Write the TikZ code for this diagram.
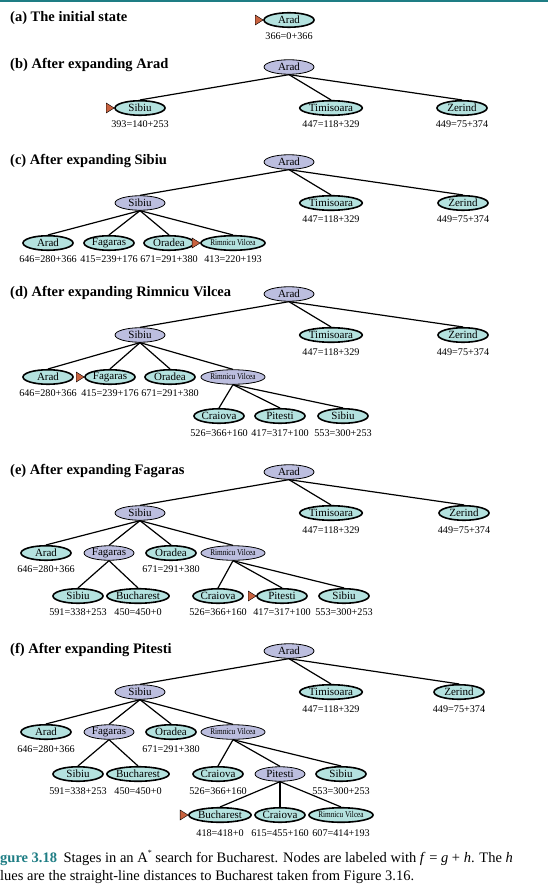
\documentclass[tikz,border=0pt]{standalone}
\usepackage{fontspec}
\setmainfont{Liberation Serif}
\usetikzlibrary{shapes.geometric}
\definecolor{frontc}{HTML}{B4E2DF}
\definecolor{expc}{HTML}{BCBEDF}
\definecolor{markc}{HTML}{C9623F}
\definecolor{tealc}{HTML}{1E7D84}
\newcommand\mk[1]{\draw[fill=markc, line width=0.4pt] (#1.west) -- ++(-8,-5) -- ++(0,10) -- cycle;}
\newcommand\rv{\scalebox{0.66}[0.8]{Rimnicu Vilcea}}
\begin{document}
\begin{tikzpicture}[x=1pt,y=-1pt,
 nd/.style={ellipse, draw, minimum width=50pt, minimum height=14.5pt, inner sep=0pt, font=\fontsize{11}{12}\selectfont},
 fr/.style={nd, fill=frontc, line width=1.6pt},
 ex/.style={nd, fill=expc, line width=0.8pt},
 lbl/.style={inner sep=0pt, font=\fontsize{10.2}{11}\selectfont},
 ttl/.style={anchor=base west, inner sep=0pt, font=\bfseries\fontsize{14.5}{16}\selectfont},
 captxt/.style={anchor=base west, inner sep=0pt, font=\fontsize{14.5}{16}\selectfont},
 edge/.style={line width=1.2pt}]
\useasboundingbox (0,0) rectangle (548,890);
\clip (0,0) rectangle (548,890);
\fill[tealc] (0,0) rectangle (548,2);

% (a)
\node[ttl] (ta) at (10,22) {(a) The initial state};
\node[fr] (a1) at (289,20) {Arad};
\node[lbl] (a1l) at (289,36) {366=0+366};
\mk{a1}

% (b)
\node[ttl] (tb) at (10,69) {(b) After expanding Arad};
\node[ex] (b1) at (289,67) {Arad};
\node[fr] (b2) at (140,108) {Sibiu};
\node[fr] (b3) at (331,108) {Timisoara};
\node[fr] (b4) at (462,108) {Zerind};
\node[lbl] (b2l) at (140,124) {393=140+253};
\node[lbl] (b3l) at (331,124) {447=118+329};
\node[lbl] (b4l) at (462,124) {449=75+374};
\mk{b2}
\foreach \c in {b2,b3,b4} \draw[edge] (b1.south) -- (\c.north);

% (c)
\node[ttl] (tc) at (10,165) {(c) After expanding Sibiu};
\node[ex] (c1) at (289,162) {Arad};
\node[ex] (c2) at (140,203) {Sibiu};
\node[fr] (c3) at (331,203) {Timisoara};
\node[fr] (c4) at (463,203) {Zerind};
\node[lbl] (c3l) at (331,219) {447=118+329};
\node[lbl] (c4l) at (463,219) {449=75+374};
\node[fr] (c5) at (48,243) {Arad};
\node[fr] (c6) at (109,243) {Fagaras};
\node[fr] (c7) at (169,243) {Oradea};
\node[fr] (c8) at (233,243) {\rv};
\node[lbl] (c5l) at (48,259) {646=280+366};
\node[lbl] (c6l) at (109,259) {415=239+176};
\node[lbl] (c7l) at (169,259) {671=291+380};
\node[lbl] (c8l) at (233,259) {413=220+193};
\mk{c8}
\foreach \c in {c2,c3,c4} \draw[edge] (c1.south) -- (\c.north);
\foreach \c in {c5,c6,c7,c8} \draw[edge] (c2.south) -- (\c.north);

% (d)
\node[ttl] (td) at (10,296) {(d) After expanding Rimnicu Vilcea};
\node[ex] (d1) at (289,294) {Arad};
\node[ex] (d2) at (140,335) {Sibiu};
\node[fr] (d3) at (331,335) {Timisoara};
\node[fr] (d4) at (463,335) {Zerind};
\node[lbl] (d3l) at (331,352) {447=118+329};
\node[lbl] (d4l) at (463,352) {449=75+374};
\node[fr] (d5) at (48,377) {Arad};
\node[fr] (d6) at (110,377) {Fagaras};
\node[fr] (d7) at (170,377) {Oradea};
\node[ex] (d8) at (233,377) {\rv};
\node[lbl] (d5l) at (48,393) {646=280+366};
\node[lbl] (d6l) at (110,393) {415=239+176};
\node[lbl] (d7l) at (170,393) {671=291+380};
\mk{d6}
\node[fr] (d9) at (219,416) {Craiova};
\node[fr] (d10) at (280,416) {Pitesti};
\node[fr] (d11) at (343,416) {Sibiu};
\node[lbl] (d9l) at (219,433) {526=366+160};
\node[lbl] (d10l) at (280,433) {417=317+100};
\node[lbl] (d11l) at (343,433) {553=300+253};
\foreach \c in {d2,d3,d4} \draw[edge] (d1.south) -- (\c.north);
\foreach \c in {d5,d6,d7,d8} \draw[edge] (d2.south) -- (\c.north);
\foreach \c in {d9,d10,d11} \draw[edge] (d8.south) -- (\c.north);

% (e)
\node[ttl] (te) at (10,474) {(e) After expanding Fagaras};
\node[ex] (e1) at (289,472) {Arad};
\node[ex] (e2) at (140,513) {Sibiu};
\node[fr] (e3) at (331,513) {Timisoara};
\node[fr] (e4) at (464,513) {Zerind};
\node[lbl] (e3l) at (331,530) {447=118+329};
\node[lbl] (e4l) at (464,530) {449=75+374};
\node[fr] (e5) at (46,553) {Arad};
\node[ex] (e6) at (109,553) {Fagaras};
\node[fr] (e7) at (171,553) {Oradea};
\node[ex] (e8) at (233,553) {\rv};
\node[lbl] (e5l) at (46,569) {646=280+366};
\node[lbl] (e7l) at (171,569) {671=291+380};
\node[fr] (e9) at (78,596) {Sibiu};
\node[fr] (e10) at (138,596) {Bucharest};
\node[fr] (e11) at (218,596) {Craiova};
\node[fr] (e12) at (282,596) {Pitesti};
\node[fr] (e13) at (344,596) {Sibiu};
\node[lbl] (e9l) at (78,612) {591=338+253};
\node[lbl] (e10l) at (138,612) {450=450+0};
\node[lbl] (e11l) at (218,612) {526=366+160};
\node[lbl] (e12l) at (282,612) {417=317+100};
\node[lbl] (e13l) at (344,612) {553=300+253};
\mk{e12}
\foreach \c in {e2,e3,e4} \draw[edge] (e1.south) -- (\c.north);
\foreach \c in {e5,e6,e7,e8} \draw[edge] (e2.south) -- (\c.north);
\foreach \c in {e9,e10} \draw[edge] (e6.south) -- (\c.north);
\foreach \c in {e11,e12,e13} \draw[edge] (e8.south) -- (\c.north);

% (f)
\node[ttl] (tf) at (10,653) {(f) After expanding Pitesti};
\node[ex] (f1) at (289,651) {Arad};
\node[ex] (f2) at (140,692) {Sibiu};
\node[fr] (f3) at (331,692) {Timisoara};
\node[fr] (f4) at (459,692) {Zerind};
\node[lbl] (f3l) at (331,709) {447=118+329};
\node[lbl] (f4l) at (459,709) {449=75+374};
\node[fr] (f5) at (46,732) {Arad};
\node[ex] (f6) at (109,732) {Fagaras};
\node[fr] (f7) at (171,732) {Oradea};
\node[ex] (f8) at (233,732) {\rv};
\node[lbl] (f5l) at (46,749) {646=280+366};
\node[lbl] (f7l) at (171,749) {671=291+380};
\node[fr] (f9) at (78,774) {Sibiu};
\node[fr] (f10) at (138,774) {Bucharest};
\node[fr] (f11) at (218,774) {Craiova};
\node[ex] (f12) at (280,774) {Pitesti};
\node[fr] (f13) at (341,774) {Sibiu};
\node[lbl] (f9l) at (78,791) {591=338+253};
\node[lbl] (f10l) at (138,791) {450=450+0};
\node[lbl] (f11l) at (218,791) {526=366+160};
\node[lbl] (f13l) at (341,791) {553=300+253};
\node[fr] (f14) at (220,815) {Bucharest};
\node[fr] (f15) at (280,815) {Craiova};
\node[fr] (f16) at (341,815) {\rv};
\node[lbl] (f14l) at (220,833) {418=418+0};
\node[lbl] (f15l) at (280,833) {615=455+160};
\node[lbl] (f16l) at (341,833) {607=414+193};
\mk{f14}
\foreach \c in {f2,f3,f4} \draw[edge] (f1.south) -- (\c.north);
\foreach \c in {f5,f6,f7,f8} \draw[edge] (f2.south) -- (\c.north);
\foreach \c in {f9,f10} \draw[edge] (f6.south) -- (\c.north);
\foreach \c in {f11,f12,f13} \draw[edge] (f8.south) -- (\c.north);
\foreach \c in {f14,f15,f16} \draw[edge] (f12.south) -- (\c.north);

% caption
\node[captxt] (cap1) at (0,862) {\textcolor{tealc}{\bfseries gure 3.18}\hspace{0.45em}Stages in an A\raisebox{0.45em}{\fontsize{8}{8}\selectfont *} search for Bucharest. Nodes are labeled with \textit{f} = \textit{g} + \textit{h}. The \textit{h}};
\node[captxt] (cap2) at (0,880) {lues are the straight-line distances to Bucharest taken from Figure 3.16.};
\end{tikzpicture}
\end{document}
